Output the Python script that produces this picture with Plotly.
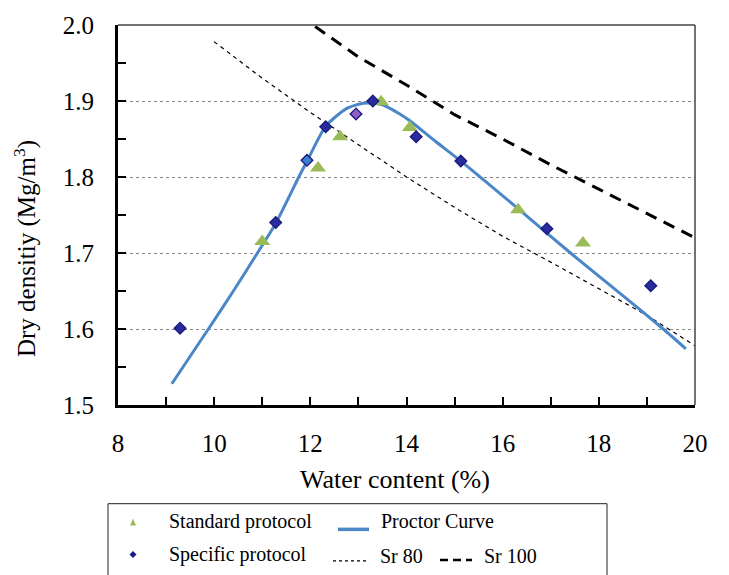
import plotly.graph_objects as go

# ---------------- data ----------------
std_w = [11.0, 12.16, 12.62, 13.47, 14.07, 16.32, 17.67]
std_rho = [1.715, 1.812, 1.853, 1.899, 1.865, 1.757, 1.713]

spec_w = [9.29, 11.28, 11.93, 12.32, 12.95, 13.30, 14.20, 15.13, 16.92, 19.08]
spec_rho = [1.601, 1.740, 1.822, 1.866, 1.883, 1.900, 1.853, 1.821, 1.732, 1.657]
spec_col = ["#2B2BA0", "#2B2BA0", "#3A7FD0", "#2B2BA0", "#9060C8",
            "#2B2BA0", "#2B2BA0", "#2B2BA0", "#2B2BA0", "#2B2BA0"]

proctor_w = [9.12, 9.88, 10.40, 10.90, 11.28, 11.76, 11.94, 12.32, 12.75, 13.10,
             13.45, 13.86, 14.07, 14.60, 15.15, 16.29, 17.43, 18.48, 19.34, 19.81]
proctor_rho = [1.528, 1.600, 1.650, 1.700, 1.739, 1.800, 1.822, 1.867, 1.890, 1.897,
               1.896, 1.883, 1.874, 1.847, 1.820, 1.760, 1.699, 1.645, 1.600, 1.574]

sr80_w = [10, 11, 12, 13, 14, 15, 16, 17, 18, 19, 20]
sr80_rho = [1.978, 1.930, 1.885, 1.842, 1.800, 1.760, 1.722, 1.688, 1.653, 1.618, 1.578]

sr100_w = [12.1, 13, 14, 15, 16, 17, 18, 19, 20]
sr100_rho = [1.998, 1.958, 1.921, 1.882, 1.850, 1.816, 1.784, 1.752, 1.720]

x_ticks = [8, 10, 12, 14, 16, 18, 20]
y_ticks = [1.5, 1.6, 1.7, 1.8, 1.9, 2.0]
y_labels = ["1.5", "1.6", "1.7", "1.8", "1.9", "2.0"]

# ---------------- layout geometry ----------------
W, H = 729, 575
L, R, T, B = 118, 695, 20, 405
FONT = "Liberation Serif, Times New Roman, serif"


def px(x):
    return (x - L) / (R - L)


def py(y):
    return (B - y) / (B - T)


fig = go.Figure()

fig.add_trace(go.Scatter(x=sr80_w, y=sr80_rho, mode="lines", name="Sr 80",
                         line=dict(color="black", width=1.2, dash="4px,4px"),
                         cliponaxis=False))
fig.add_trace(go.Scatter(x=sr100_w, y=sr100_rho, mode="lines", name="Sr 100",
                         line=dict(color="black", width=3, dash="12px,8px")))
fig.add_trace(go.Scatter(x=proctor_w, y=proctor_rho, mode="lines", name="Proctor Curve",
                         line=dict(color="#4A86C8", width=3, shape="spline", smoothing=0.6)))
fig.add_trace(go.Scatter(x=std_w, y=std_rho, mode="markers", name="Standard protocol",
                         marker=dict(symbol="triangle-up", size=14, color="#9BBB59",
                                     line=dict(width=0))))
fig.add_trace(go.Scatter(x=spec_w, y=spec_rho, mode="markers", name="Specific protocol",
                         marker=dict(symbol="diamond", size=9, color=spec_col,
                                     line=dict(width=1.3, color="#1A1A7A"))))

fig.update_layout(
    width=W, height=H,
    margin=dict(l=L, r=W - R, t=T, b=H - B),
    paper_bgcolor="white", plot_bgcolor="white",
    showlegend=False,
    font=dict(family=FONT, color="black"),
)

fig.update_xaxes(
    range=[8, 20], tickvals=x_ticks, ticktext=[str(v) for v in x_ticks],
    tickfont=dict(size=25, family=FONT, color="black"),
    showline=True, linecolor="black", linewidth=3,
    ticks="inside", ticklen=8, tickwidth=1.5, tickcolor="black",
    minor=dict(dtick=1, ticks="inside", ticklen=8, tickwidth=1.5, tickcolor="black"),
    showgrid=False, zeroline=False, ticklabelstandoff=14,
)
fig.update_yaxes(
    range=[1.5, 2.0], tickvals=y_ticks, ticktext=y_labels,
    tickfont=dict(size=25, family=FONT, color="black"),
    showline=True, linecolor="black", linewidth=3,
    ticks="inside", ticklen=8, tickwidth=1.5, tickcolor="black",
    minor=dict(dtick=0.05, ticks="inside", ticklen=8, tickwidth=1.5, tickcolor="black",
               showgrid=False),
    showgrid=True, gridcolor="#888888", gridwidth=1, griddash="dot",
    zeroline=False, ticklabelstandoff=16,
)

shapes = []
# top & right frame lines (thinner gray)
shapes.append(dict(type="line", xref="paper", yref="paper", x0=0, x1=1, y0=1, y1=1,
                   line=dict(color="#444444", width=1.5)))
shapes.append(dict(type="line", xref="paper", yref="paper", x0=1, x1=1, y0=0, y1=1,
                   line=dict(color="#444444", width=1.5)))

# legend box
shapes.append(dict(type="rect", xref="paper", yref="paper",
                   x0=px(108), x1=px(607), y0=py(590), y1=py(505),
                   line=dict(color="#222222", width=1), fillcolor="rgba(0,0,0,0)"))
# legend line samples
shapes.append(dict(type="line", xref="paper", yref="paper", x0=px(338), x1=px(369),
                   y0=py(531), y1=py(531), line=dict(color="#4A86C8", width=3.5)))
shapes.append(dict(type="line", xref="paper", yref="paper", x0=px(333), x1=px(366),
                   y0=py(563), y1=py(563), line=dict(color="black", width=1.2, dash="3px,3px")))
shapes.append(dict(type="line", xref="paper", yref="paper", x0=px(440), x1=px(472),
                   y0=py(562), y1=py(562), line=dict(color="black", width=2.5, dash="8px,5px")))


def poly(points, color):
    d = "M " + " L ".join(f"{px(a):.5f},{py(b):.5f}" for a, b in points) + " Z"
    return dict(type="path", xref="paper", yref="paper", path=d,
                fillcolor=color, line=dict(width=0))


# legend marker samples
shapes.append(poly([(130, 527), (136, 527), (133, 520)], "#9BBB59"))
shapes.append(poly([(133, 553), (136.5, 556.5), (133, 560), (129.5, 556.5)], "#1A1A8A"))

annotations = []


def txt(x, y, s, size, anchor="left", color="black", angle=0):
    annotations.append(dict(xref="paper", yref="paper", x=px(x), y=py(y), text=s,
                            showarrow=False, xanchor=anchor, yanchor="middle",
                            textangle=angle,
                            font=dict(family=FONT, size=size, color=color)))


# axis titles
txt(395, 480, "Water content (%)", 26, anchor="center")
txt(25, 247, "Dry densitiy (Mg/m<sup>3</sup>)", 25, anchor="center", angle=-90)

# legend entries
txt(167, 523, "Standard protocol", 20)
txt(167, 556, "Specific protocol", 20)
txt(379, 523, "Proctor Curve", 20)
txt(378, 558, "Sr 80", 20)
txt(482, 558, "Sr 100", 20)

fig.update_layout(shapes=shapes, annotations=annotations)

fig.write_html("out.html")
